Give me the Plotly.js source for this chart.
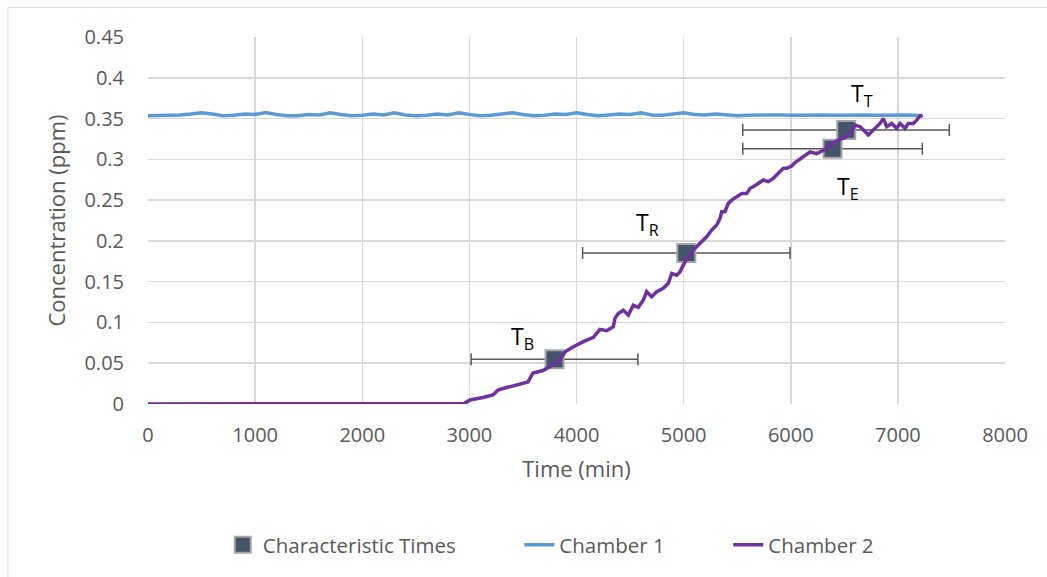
<!DOCTYPE html>
<html>
<head>
<meta charset="utf-8">
<script src="https://cdn.plot.ly/plotly-3.0.1.min.js"></script>
<style>html,body{margin:0;padding:0;background:#fff;}#chart{width:1047px;height:577px;}</style>
</head>
<body>
<div id="chart"></div>
<script>
// Characteristic times (markers with horizontal error bars)
const charNames = ["T<sub>B</sub>", "T<sub>R</sub>", "T<sub>E</sub>", "T<sub>T</sub>"];
const charTime = [3795, 5025, 6390, 6518];
const charConc = [0.055, 0.185, 0.313, 0.336];
const charErrPlus = [778, 968, 838, 962];
const charErrMinus = [778, 968, 838, 966];
// label anchor positions (data units)
const labelTime = [3500, 4667, 6535, 6665];
const labelConc = [0.082, 0.221, 0.2655, 0.379];

// Chamber 1 (source chamber)
const c1Time = [0,100,200,300,400,500,600,700,800,900,1000,1100,1200,1300,1400,1500,1600,1700,1800,1900,2000,2100,2200,2300,2400,2500,2600,2700,2800,2900,3000,3100,3200,3300,3400,3500,3600,3700,3800,3900,4000,4100,4200,4300,4400,4500,4600,4700,4800,4900,5000,5100,5200,5300,5400,5500,5600,5700,5800,5900,6000,6100,6200,6300,6400,6500,6600,6700,6800,6900,7000,7100,7220];
const c1Conc = [0.3535,0.3535,0.354,0.3545,0.3555,0.357,0.3555,0.3535,0.354,0.3555,0.355,0.3575,0.355,0.3535,0.3535,0.355,0.3545,0.357,0.355,0.3535,0.354,0.3555,0.3545,0.357,0.3545,0.3535,0.354,0.3555,0.3545,0.357,0.355,0.3535,0.354,0.3555,0.357,0.355,0.3535,0.354,0.3555,0.355,0.357,0.355,0.3535,0.3545,0.3555,0.355,0.357,0.3545,0.354,0.3555,0.357,0.355,0.3545,0.3555,0.3545,0.3535,0.354,0.3545,0.354,0.3545,0.354,0.3545,0.354,0.3545,0.354,0.3545,0.354,0.3545,0.354,0.3545,0.354,0.3545,0.3535];

// Chamber 2 (receiving chamber)
const c2Time = [0,1000,2000,2900,2950,3006,3060,3127,3220,3267,3314,3379,3473,3547,3594,3687,3781,3846,3893,3967,4064,4157,4219,4282,4344,4359,4390,4437,4484,4530,4577,4624,4655,4702,4749,4810,4857,4889,4935,4966,5013,5060,5090,5137,5215,5262,5309,5340,5356,5386,5417,5449,5496,5542,5589,5620,5650,5697,5744,5790,5837,5884,5931,5962,6009,6040,6117,6180,6242,6304,6366,6444,6522,6569,6600,6647,6694,6724,6771,6833,6864,6896,6943,6989,7020,7067,7098,7144,7175,7206,7232];
const c2Conc = [0,0,0,0,0.0005,0.005,0.006,0.008,0.011,0.017,0.019,0.021,0.0245,0.027,0.038,0.041,0.048,0.054,0.064,0.070,0.0764,0.0818,0.0916,0.0899,0.0948,0.105,0.111,0.115,0.109,0.121,0.1186,0.1275,0.1377,0.1316,0.1377,0.1419,0.148,0.160,0.158,0.162,0.1745,0.1827,0.1888,0.195,0.205,0.2133,0.2195,0.2277,0.2358,0.2358,0.246,0.250,0.254,0.258,0.258,0.2645,0.2664,0.2706,0.2746,0.2726,0.2767,0.2829,0.289,0.289,0.2918,0.296,0.303,0.309,0.307,0.311,0.3176,0.3237,0.3277,0.3339,0.342,0.340,0.334,0.3298,0.336,0.344,0.350,0.340,0.344,0.338,0.344,0.338,0.344,0.344,0.348,0.353,0.354];

const xTicks = [0,1000,2000,3000,4000,5000,6000,7000,8000];
const yTicks = [0,0.05,0.1,0.15,0.2,0.25,0.3,0.35,0.4,0.45];
const yTickText = ["0","0.05","0.1","0.15","0.2","0.25","0.3","0.35","0.4","0.45"];

const FONT = "'Open Sans', 'Noto Sans', sans-serif";
const PAD = '\u00a0'.repeat(11);

const traces = [
  {
    type: 'scatter', mode: 'markers', name: 'Characteristic Times' + PAD,
    x: charTime, y: charConc,
    marker: {symbol: 'square', size: 18, color: '#44546A', line: {color: '#A5A5A5', width: 2}},
    error_x: {type: 'data', symmetric: false, array: charErrPlus, arrayminus: charErrMinus,
              color: '#595959', thickness: 1.5, width: 6},
    hoverinfo: 'skip'
  },
  {
    type: 'scatter', mode: 'lines', name: 'Chamber 1' + PAD,
    x: c1Time, y: c1Conc,
    line: {color: '#5B9BD5', width: 3.5}
  },
  {
    type: 'scatter', mode: 'lines', name: 'Chamber 2',
    x: c2Time, y: c2Conc,
    line: {color: '#7030A0', width: 3.5}
  }
];

const annotations = charNames.map((t, i) => ({
  x: labelTime[i], y: labelConc[i], xref: 'x', yref: 'y',
  text: t, showarrow: false, xanchor: 'center', yanchor: 'middle',
  font: {family: FONT, size: 23, color: '#000000'}
}));

const layout = {
  width: 1047, height: 577,
  margin: {l: 148, r: 42, t: 37, b: 173, pad: 0},
  paper_bgcolor: '#ffffff', plot_bgcolor: '#ffffff',
  font: {family: FONT, color: '#595959'},
  showlegend: true,
  legend: {orientation: 'h', x: 0.47, xanchor: 'center', y: -0.384, yanchor: 'middle',
           font: {family: FONT, size: 20.5, color: '#595959'}, itemwidth: 30, traceorder: 'normal'},
  xaxis: {
    range: [0, 8000], tickmode: 'array', tickvals: xTicks, ticktext: xTicks.map(String),
    showgrid: true, gridcolor: '#D9D9D9', gridwidth: 1.5, zeroline: false, showline: false,
    ticks: '', ticklabelstandoff: 17,
    tickfont: {family: FONT, size: 20, color: '#595959'},
    title: {text: 'Time (min)', font: {family: FONT, size: 22, color: '#595959'}, standoff: 14}
  },
  yaxis: {
    range: [0, 0.45], tickmode: 'array', tickvals: yTicks, ticktext: yTickText,
    showgrid: true, gridcolor: '#D9D9D9', gridwidth: 1.5, zeroline: false, showline: false,
    ticks: '', ticklabelstandoff: 23,
    tickfont: {family: FONT, size: 20, color: '#595959'},
    title: {text: 'Concentration (ppm)', font: {family: FONT, size: 22, color: '#595959'}, standoff: 12}
  },
  annotations: annotations,
  shapes: [
    {type: 'rect', xref: 'paper', yref: 'paper', x0: -0.1634, x1: 1.2, y0: -0.7, y1: 1.0804,
     line: {color: '#D9D9D9', width: 1}, fillcolor: 'rgba(0,0,0,0)', layer: 'below'}
  ]
};

Plotly.newPlot('chart', traces, layout, {displayModeBar: false, staticPlot: true});
</script>
</body>
</html>
